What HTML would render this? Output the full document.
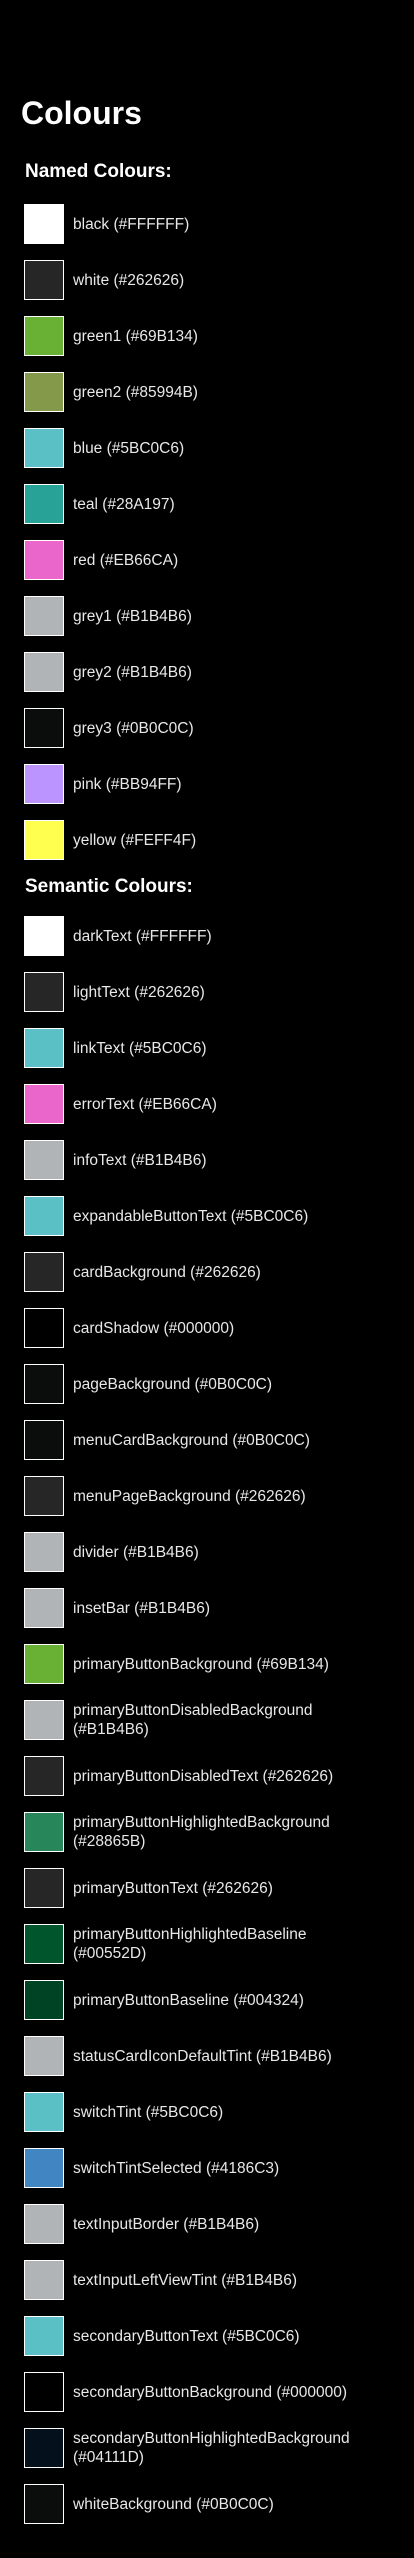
<!DOCTYPE html>
<html><head><meta charset="utf-8"><style>
html,body{margin:0;padding:0;background:#000;}
body{width:414px;height:2558px;position:relative;font-family:"Liberation Sans",sans-serif;color:#e8e8e8;overflow:hidden;}
h1{position:absolute;left:21px;top:93px;margin:0;font-size:32px;font-weight:bold;color:#fff;line-height:40px;}
h2{position:absolute;left:25px;margin:0;font-size:19px;font-weight:bold;color:#fff;line-height:24px;}
.r{position:absolute;left:24px;height:40px;display:flex;align-items:center;}
.s{width:38px;height:38px;border:1px solid #fff;flex:none;}
.t{margin-left:9px;font-size:15.5px;line-height:19px;}
</style></head><body>
<h1>Colours</h1>
<h2 style="top:160px">Named Colours:</h2>
<h2 style="top:875px">Semantic Colours:</h2>
<div id="c"></div>
<script>
var named=[["black","FFFFFF"],["white","262626"],["green1","69B134"],["green2","85994B"],["blue","5BC0C6"],["teal","28A197"],["red","EB66CA"],["grey1","B1B4B6"],["grey2","B1B4B6"],["grey3","0B0C0C"],["pink","BB94FF"],["yellow","FEFF4F"]];
var sem=[["darkText","FFFFFF"],["lightText","262626"],["linkText","5BC0C6"],["errorText","EB66CA"],["infoText","B1B4B6"],["expandableButtonText","5BC0C6"],["cardBackground","262626"],["cardShadow","000000"],["pageBackground","0B0C0C"],["menuCardBackground","0B0C0C"],["menuPageBackground","262626"],["divider","B1B4B6"],["insetBar","B1B4B6"],["primaryButtonBackground","69B134"],["primaryButtonDisabledBackground","B1B4B6",1],["primaryButtonDisabledText","262626"],["primaryButtonHighlightedBackground","28865B",1],["primaryButtonText","262626"],["primaryButtonHighlightedBaseline","00552D",1],["primaryButtonBaseline","004324"],["statusCardIconDefaultTint","B1B4B6"],["switchTint","5BC0C6"],["switchTintSelected","4186C3"],["textInputBorder","B1B4B6"],["textInputLeftViewTint","B1B4B6"],["secondaryButtonText","5BC0C6"],["secondaryButtonBackground","000000"],["secondaryButtonHighlightedBackground","04111D",1],["whiteBackground","0B0C0C"]];
var h="";
function add(list,y0){list.forEach(function(e,i){h+='<div class="r" style="top:'+(y0+i*56)+'px"><div class="s" style="background:#'+e[1]+'"></div><div class="t">'+e[0]+(e[2]?'<br>':' ')+'(#'+e[1]+')</div></div>';});}
add(named,204);add(sem,916);
document.getElementById("c").innerHTML=h;
</script>
</body></html>
